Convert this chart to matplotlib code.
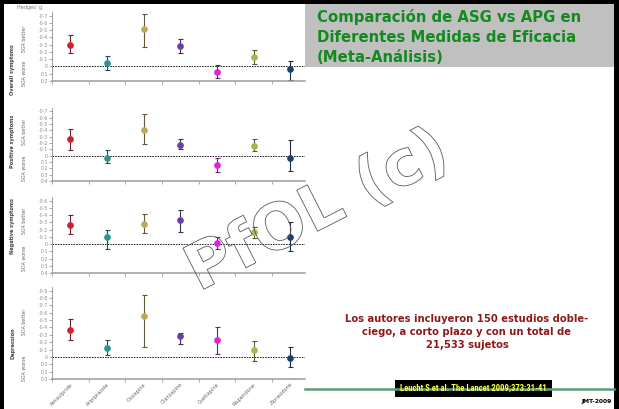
import numpy as np
import matplotlib
matplotlib.use("Agg")
import matplotlib.pyplot as plt
import matplotlib.patheffects as pe
from matplotlib.patches import Rectangle
from matplotlib.transforms import blended_transform_factory

# datos (Hedges' g, IC 95%)
drugs = ["Amisulpride", "Aripiprazole", "Clozapine", "Olanzapine",
         "Quetiapine", "Risperidone", "Ziprasidone"]
colors = ["#d0202c", "#2a9494", "#bfa85c", "#6b3f9e", "#e21ee0", "#a9b44a", "#1f3e6e"]

panel_names = ["Overall symptoms", "Positive symptoms", "Negative symptoms", "Depression"]

overall_g = [-0.30, -0.05, -0.51, -0.28, 0.07, -0.13, 0.04]
overall_lo = [-0.43, -0.14, -0.72, -0.38, -0.02, -0.22, -0.07]
overall_hi = [-0.18, 0.05, -0.27, -0.18, 0.16, -0.04, 0.19]

positive_g = [-0.26, 0.04, -0.40, -0.17, 0.15, -0.15, 0.04]
positive_lo = [-0.42, -0.09, -0.65, -0.26, 0.04, -0.26, -0.25]
positive_hi = [-0.09, 0.12, -0.19, -0.11, 0.26, -0.07, 0.24]

negative_g = [-0.27, -0.10, -0.28, -0.33, -0.01, -0.16, -0.10]
negative_lo = [-0.40, -0.19, -0.42, -0.47, -0.10, -0.23, -0.30]
negative_hi = [-0.14, 0.07, -0.15, -0.16, 0.07, -0.08, 0.09]

depression_g = [-0.37, -0.12, -0.55, -0.29, -0.23, -0.10, 0.01]
depression_lo = [-0.51, -0.23, -0.84, -0.33, -0.40, -0.21, -0.14]
depression_hi = [-0.23, -0.02, -0.14, -0.18, -0.04, 0.05, 0.14]

series = [(overall_g, overall_lo, overall_hi),
          (positive_g, positive_lo, positive_hi),
          (negative_g, negative_lo, negative_hi),
          (depression_g, depression_lo, depression_hi)]

tick_ranges = [(-0.7, 0.2), (-0.7, 0.4), (-0.6, 0.4), (-0.9, 0.3)]

title_lines = ["Comparación de ASG vs APG en",
               "Diferentes Medidas de Eficacia",
               "(Meta-Análisis)"]
nota = "Los autores incluyeron 150 estudios doble-\nciego, a corto plazo y con un total de\n21,533 sujetos"
cita = "Leucht S et al. The Lancet 2009;373:31-41"
marca = "PfOL (c)"

W, H = 619, 409
fig = plt.figure(figsize=(W / 100, H / 100), dpi=100)
fig.patch.set_facecolor("white")
renderer = fig.canvas.get_renderer()


def fx(x):
    return x / W


def fy(y):
    return 1 - y / H


def ajustar(t, ancho):
    # escala el tamaño de letra para que el texto ocupe 'ancho' pixeles
    w = t.get_window_extent(renderer).width
    t.set_fontsize(t.get_fontsize() * ancho / w)


# posicion de cada panel en pixeles: (lim sup, lim inf, y sup, y inf, y del nombre)
layout = [(-0.75, 0.2, 12, 81, 0.04),
          (-0.75, 0.4, 108, 181, -0.22),
          (-0.65, 0.4, 197, 273, -0.25),
          (-0.95, 0.3, 287, 379, -0.19)]

grey = "#8a8a8a"
for i, (top_v, bot_v, ytop, ybot, name_y) in enumerate(layout):
    ax = fig.add_axes([fx(52), fy(ybot), fx(305) - fx(52), (ybot - ytop) / H])
    ax.set_facecolor("none")
    ax.set_xlim(0, 6.9)
    ax.set_ylim(bot_v, top_v)
    for s in ["top", "right"]:
        ax.spines[s].set_visible(False)
    ax.spines["left"].set_color(grey)
    ax.spines["left"].set_linewidth(0.6)
    ax.spines["bottom"].set_color("#9a9a9a")
    ax.spines["bottom"].set_linewidth(1.1)

    tmin, tmax = tick_ranges[i]
    yt = np.round(np.arange(tmin, tmax + 0.001, 0.1), 1)
    labs = ["0" if abs(v) < 1e-9 else f"{v:.1f}".replace(".", "·") for v in yt]
    ax.set_yticks(yt, labels=labs)
    ax.set_xticks(np.arange(7))
    ax.set_xticklabels([])
    ax.tick_params(axis="both", which="major", length=2, width=0.5, colors=grey,
                   labelsize=3.4, pad=1)
    if i == 3:
        ax.set_xticks(np.arange(7) + 0.5, labels=drugs, minor=True)
        ax.tick_params(axis="x", which="minor", length=0, labelsize=3.6,
                       labelcolor="#666666", pad=2)
        for t in ax.get_xticklabels(minor=True):
            t.set_rotation(45)
            t.set_ha("right")
            t.set_rotation_mode("anchor")

    ax.axhline(0, color="#222222", lw=0.7, ls=(0, (1.6, 1.1)), zorder=1)

    g, lo, hi = [np.array(a) for a in series[i]]
    xs = np.arange(7) + 0.5
    for j in range(7):
        ec = tuple(0.4 * np.array(matplotlib.colors.to_rgb(colors[j])) + 0.08)
        ax.errorbar(xs[j], g[j], yerr=[[g[j] - lo[j]], [hi[j] - g[j]]], fmt="none",
                    ecolor=ec, elinewidth=0.8, capsize=1.8, capthick=0.8, zorder=2)
        ax.plot(xs[j], g[j], "o", color=colors[j], ms=3.8, mec=colors[j], zorder=3)

    tr = blended_transform_factory(fig.transFigure, ax.transData)
    ax.text(fx(13), name_y, panel_names[i], transform=tr, rotation=90, ha="center",
            va="center", fontsize=3.6, color="#444444", fontweight="bold")
    ax.text(fx(24), top_v / 2, "SGA better", transform=tr, rotation=90, ha="center",
            va="center", fontsize=3.4, color="#666666")
    ax.text(fx(24), bot_v / 2, "SGA worse", transform=tr, rotation=90, ha="center",
            va="center", fontsize=3.4, color="#666666")

fig.text(fx(17), fy(8), "Hedges' g", fontsize=3.6, color="#777777", va="center")

# caja del titulo
fig.add_artist(Rectangle((fx(305), fy(67)), fx(614) - fx(305), (67 - 4) / H,
                         transform=fig.transFigure, facecolor="#c0c0c0", edgecolor="none"))
for k, line in enumerate(title_lines):
    fig.text(fx(317), fy(17 + 20 * k), line, fontsize=10.7, fontweight="bold",
             color="#128a1e", va="center", ha="left")

fig.text(fx(467), fy(332), nota, fontsize=7.2, fontweight="bold", color="#8e1a1a",
         ha="center", va="center", linespacing=1.38)

# linea verde y cita
fig.add_artist(plt.Line2D([fx(305), fx(614)], [fy(389), fy(389)], transform=fig.transFigure,
                          color="#5b9c7c", lw=1.8))
fig.add_artist(Rectangle((fx(395), fy(397)), fx(552) - fx(395), 17 / H,
                         transform=fig.transFigure, facecolor="black", edgecolor="none"))
t_cita = fig.text(fx(473.5), fy(388.5), cita, fontsize=6, fontweight="bold",
                  color="#ffff3a", ha="center", va="center",
                  family=["Roboto Condensed", "DejaVu Sans Condensed", "DejaVu Sans"])
ajustar(t_cita, 148)
fig.text(fx(612), fy(402), "JMT-2009", fontsize=4.3, fontweight="bold", color="black",
         ha="right", va="center")

# marca de agua en contorno (texto hueco)
t_wm = fig.text(fx(318), fy(212), marca, fontsize=40, fontweight="bold",
                color=(0, 0, 0, 0), ha="center", va="center",
                family=["DejaVu Sans Condensed", "DejaVu Sans"],
                path_effects=[pe.Stroke(linewidth=0.6, foreground="#5a5a5a")])
ajustar(t_wm, 285)
t_wm.set_rotation(27)
t_wm.set_rotation_mode("anchor")

# marco negro
fig.add_artist(Rectangle((0, fy(4)), 1, 4 / H, transform=fig.transFigure,
                         facecolor="black", edgecolor="none"))
fig.add_artist(Rectangle((0, 0), fx(4), 1, transform=fig.transFigure,
                         facecolor="black", edgecolor="none"))
fig.add_artist(Rectangle((fx(614), 0), fx(5), 1, transform=fig.transFigure,
                         facecolor="black", edgecolor="none"))

fig.savefig("out.png", dpi=100)
